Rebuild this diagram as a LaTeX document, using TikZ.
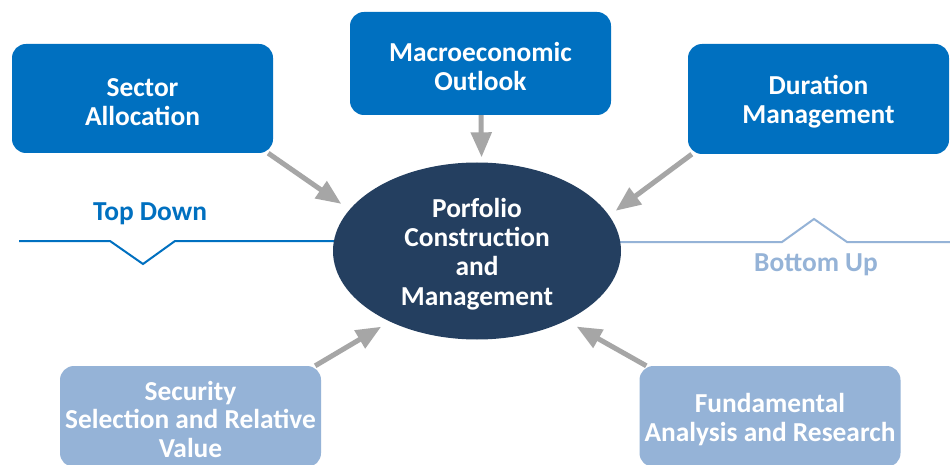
\documentclass[tikz,border=0pt]{standalone}
\usepackage{fontspec}
\setmainfont{Carlito}
\usetikzlibrary{arrows.meta,shapes.geometric}
\definecolor{boxdark}{HTML}{0070C0}
\definecolor{boxlight}{HTML}{95B3D7}
\definecolor{core}{HTML}{243F60}
\definecolor{arrowgray}{HTML}{A6A6A6}
% invisible strut that lowers the text block inside a card
\newcommand{\toppad}{\rule{0pt}{25pt}}
\begin{document}
\begin{tikzpicture}[x=1pt,y=-1pt,
  card/.style={rounded corners=14pt, minimum width=261pt, align=center,
    text=white, inner sep=0pt, font=\bfseries\fontsize{27.4}{28.5}\selectfont},
  darkcard/.style={card, fill=boxdark},
  lightcard/.style={card, fill=boxlight},
  feed/.style={draw=arrowgray, line width=5pt,
    -{Triangle[length=25pt,width=20pt]}},
  tag/.style={font=\bfseries\fontsize{27.4}{28}\selectfont}
]
\clip (0,0) rectangle (950,465);
\fill[white] (0,0) rectangle (950,465);

% top-down / bottom-up axis lines, passing behind the centre
\draw[boxdark, line width=2pt] (19,241) -- (110,241) -- (143,264) -- (175,241) -- (420,241);
\draw[boxlight, line width=2pt] (540,242) -- (782,242) -- (814,219) -- (847,242) -- (950,242);

\node[tag, text=boxdark] (td) at (150,214) {Top Down};
\node[tag, text=boxlight] (bu) at (816,265) {Bottom Up};

% central process
\node[ellipse, fill=core, minimum width=288pt, minimum height=177pt,
  inner sep=0pt, text=white, align=center,
  font=\bfseries\fontsize{27.4}{29.3}\selectfont] (core) at (477,251)
  {\toppad Porfolio\\Construction\\and\\Management};

% inputs
\node[darkcard, minimum height=109pt] (sector) at (142.5,98.5) {\toppad Sector\\Allocation};
\node[darkcard, minimum height=103pt] (macro) at (480.5,63.5) {\toppad Macroeconomic\\Outlook};
\node[darkcard, minimum height=110pt] (duration) at (818.5,99) {\toppad Duration\\Management};
\node[lightcard, minimum height=101pt] (security) at (190.5,416.5) {\toppad Security\\Selection and Relative\\Value};
\node[lightcard, minimum height=101pt] (fundamental) at (770,416.5) {\toppad Fundamental\\Analysis and Research};

% connectors into the centre
\draw[feed, shorten >=10pt] ([xshift=-5pt]sector.south east) -- (core.162.8);
\draw[feed, shorten >=5pt] ([xshift=0.5pt]macro.south) -- (core.87.4);
\draw[feed, shorten >=8pt] ([xshift=4pt]duration.south west) -- (core.15.3);
\draw[feed, shorten >=10pt] ([xshift=-6pt]security.north east) -- (core.219.4);
\draw[feed, shorten >=12pt] ([xshift=7pt]fundamental.north west) -- (core.322);
\end{tikzpicture}
\end{document}
